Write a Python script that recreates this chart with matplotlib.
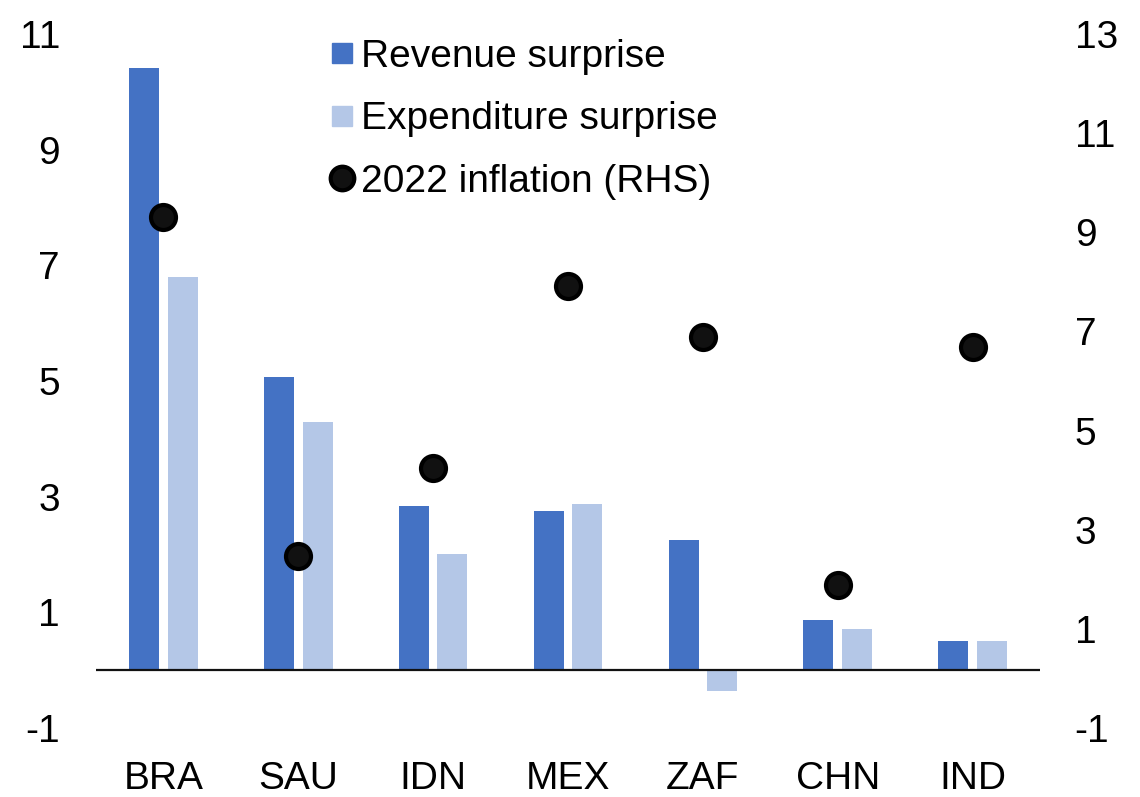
import numpy as np
import matplotlib
matplotlib.use("Agg")
import matplotlib.pyplot as plt
from matplotlib.lines import Line2D

plt.rcParams['font.family'] = ['Liberation Sans', 'DejaVu Sans']
plt.rcParams['axes.unicode_minus'] = False

countries = ["BRA", "SAU", "IDN", "MEX", "ZAF", "CHN", "IND"]
revenueSurprise = [10.41, 5.07, 2.84, 2.75, 2.25, 0.86, 0.51]
expenditureSurprise = [6.80, 4.29, 2.01, 2.87, -0.36, 0.72, 0.50]
inflation2022 = [9.31, 2.47, 4.25, 7.92, 6.89, 1.88, 6.69]

revColor = "#4472C4"
expColor = "#B4C7E7"

fig = plt.figure(figsize=(11.4, 7.97), dpi=100)
ax = fig.add_axes([0.0842, 0.0866, 0.8281, 0.8708])
ax2 = ax.twinx()

x = np.arange(len(countries))
barWidth = 0.222
ax.bar(x - 0.143, revenueSurprise, width=barWidth, color=revColor, zorder=2)
ax.bar(x + 0.143, expenditureSurprise, width=barWidth, color=expColor, zorder=2)
ax.axhline(0, color="#111111", lw=1.6, zorder=3)

ax2.plot(x, inflation2022, linestyle="none", marker="o", markersize=18,
         markerfacecolor="#111111", markeredgecolor="black", markeredgewidth=3)

ax.set_xlim(-0.5, 6.5)
ax.set_ylim(-1, 11)
ax2.set_ylim(-1, 13)
ax.set_yticks(np.arange(-1, 12, 2))
ax2.set_yticks(np.arange(-1, 14, 2))
ax.set_xticks(x)
ax.set_xticklabels(countries)

for a in (ax, ax2):
    for s in a.spines.values():
        s.set_visible(False)
ax.tick_params(axis="y", length=0, labelsize=28, pad=26)
ax.tick_params(axis="x", length=0, labelsize=28, pad=24)
ax2.tick_params(axis="y", length=0, labelsize=28, pad=25)

handles = [
    Line2D([], [], linestyle="none", marker="s", markersize=14.4, markerfacecolor=revColor, markeredgecolor=revColor),
    Line2D([], [], linestyle="none", marker="s", markersize=14.4, markerfacecolor=expColor, markeredgecolor=expColor),
    Line2D([], [], linestyle="none", marker="o", markersize=17, markerfacecolor="#111111",
           markeredgecolor="black", markeredgewidth=3),
]
labels = ["Revenue surprise", "Expenditure surprise", "2022 inflation (RHS)"]
fig.legend(handles, labels, loc="upper left", bbox_to_anchor=(324.5 / 1140, 0.951), frameon=False,
           fontsize=28, handlelength=0.9, handletextpad=0.04, labelspacing=0.68, borderpad=0,
           borderaxespad=0)

fig.savefig("out.png", dpi=100)
